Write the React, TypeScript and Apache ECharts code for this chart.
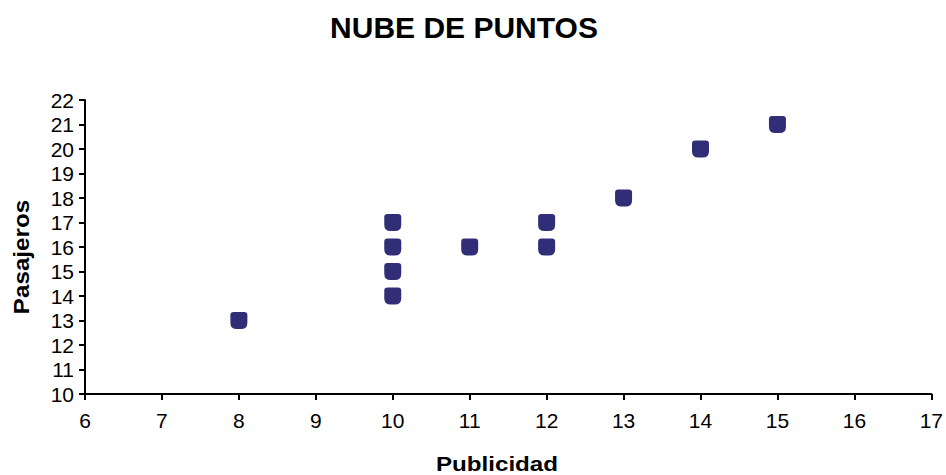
import React, { useEffect, useRef } from "react";
import * as echarts from "echarts";

const publicidad = [8, 10, 10, 10, 10, 11, 12, 12, 13, 14, 15];
const pasajeros = [13, 14, 15, 16, 17, 16, 16, 17, 18, 20, 21];
const titleText = "NUBE DE PUNTOS";
const xName = "Publicidad";
const yName = "Pasajeros";

const FONT = "'Liberation Sans', Arial, sans-serif";

export default function App() {
  const ref = useRef<HTMLDivElement>(null);
  useEffect(() => {
    if (!ref.current) return;
    const chart = echarts.init(ref.current, null, { renderer: "svg" });
    const data = publicidad.map((x, i) => [x, pasajeros[i]]);
    chart.setOption({
      animation: false,
      backgroundColor: "#ffffff",
      graphic: [
        {
          type: "text",
          x: 464,
          y: 27,
          style: {
            text: titleText,
            font: `bold 30px ${FONT}`,
            fill: "#000",
            align: "center",
            verticalAlign: "middle",
          },
          z: 10,
        },
        {
          type: "text",
          x: 497,
          y: 464,
          scaleX: 1.15,
          style: {
            text: xName,
            font: `bold 21px ${FONT}`,
            fill: "#000",
            align: "center",
            verticalAlign: "middle",
          },
        },
        {
          type: "text",
          x: 21,
          y: 257,
          rotation: Math.PI / 2,
          scaleX: 1.1,
          style: {
            text: yName,
            font: `bold 22px ${FONT}`,
            fill: "#000",
            align: "center",
            verticalAlign: "middle",
          },
        },
      ],
      grid: { left: 85, right: 14, top: 100, bottom: 81, containLabel: false },
      xAxis: {
        type: "value",
        min: 6,
        max: 17,
        interval: 1,
        splitLine: { show: false },
        axisLine: { lineStyle: { color: "#000", width: 2 } },
        axisTick: { show: true, length: 6, lineStyle: { color: "#000", width: 2 } },
        axisLabel: { color: "#000", fontSize: 21, fontFamily: FONT, margin: 16 },
      },
      yAxis: {
        type: "value",
        min: 10,
        max: 22,
        interval: 1,
        splitLine: { show: false },
        axisLine: { show: true, lineStyle: { color: "#000", width: 2 } },
        axisTick: { show: true, length: 6, lineStyle: { color: "#000", width: 2 } },
        axisLabel: { color: "#000", fontSize: 21, fontFamily: FONT, margin: 11 },
      },
      series: [
        {
          type: "scatter",
          data,
          symbol:
            "path://M3,0 H13 Q16,0 16,3 V10 Q16,16 10,16 H6 Q0,16 0,10 V3 Q0,0 3,0 Z",
          symbolSize: [17, 17],
          itemStyle: { color: "#302e77", opacity: 1 },
        },
      ],
    });
    return () => chart.dispose();
  }, []);
  return <div ref={ref} style={{ width: 946, height: 475, position: "absolute", left: 0, top: 0 }} />;
}
